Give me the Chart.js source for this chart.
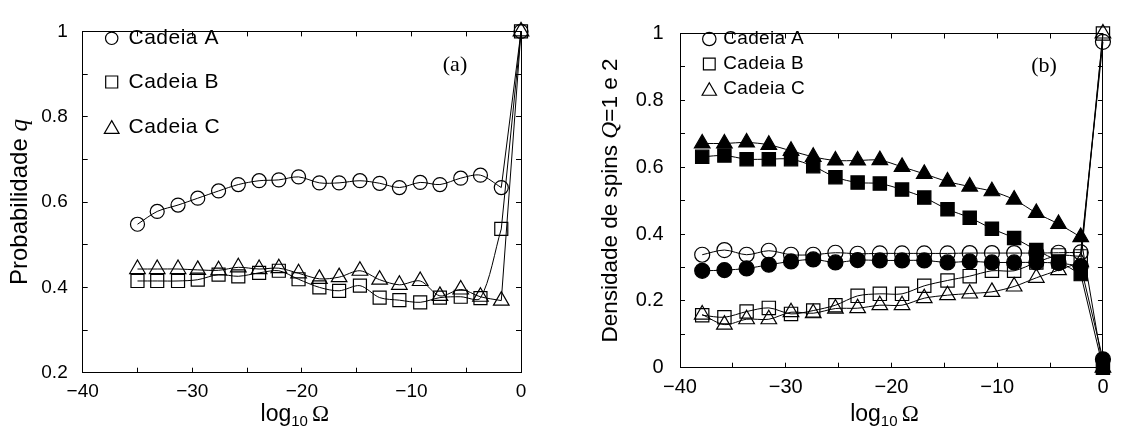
<!DOCTYPE html>
<html>
<head>
<meta charset="utf-8">
<script src="https://cdn.jsdelivr.net/npm/chart.js@4.4.1/dist/chart.umd.min.js"></script>
<style>
  body { margin: 0; background: #fff; }
  canvas { position: absolute; top: 0; }
  #painelA { left: 0; }
  #painelB { left: 560px; }
</style>
</head>
<body>
<canvas id="painelA" width="560" height="434"></canvas>
<canvas id="painelB" width="561" height="434"></canvas>
<script>
// (a) probabilidade q em função de log10 Ω
const logOmegaA = [-35.0, -33.2, -31.3, -29.5, -27.6, -25.8, -23.9, -22.1, -20.3, -18.4,
                   -16.6, -14.7, -12.9, -11.1, -9.2, -7.4, -5.5, -3.7, -1.8, 0];
const probCadeiaA = [0.548, 0.578, 0.593, 0.609, 0.626, 0.641, 0.650, 0.652, 0.659, 0.645,
                     0.645, 0.650, 0.644, 0.634, 0.646, 0.641, 0.656, 0.663, 0.634, 1];
const probCadeiaB = [0.415, 0.415, 0.415, 0.418, 0.430, 0.426, 0.434, 0.439, 0.419, 0.400,
                     0.392, 0.404, 0.376, 0.370, 0.365, 0.376, 0.378, 0.375, 0.537, 1];
const probCadeiaC = [0.443, 0.443, 0.443, 0.441, 0.440, 0.447, 0.443, 0.445, 0.433, 0.420,
                     0.424, 0.439, 0.418, 0.406, 0.415, 0.380, 0.395, 0.378, 0.369, 1];

// (b) densidade de spins Q=1 e 2 (símbolos abertos e cheios)
const logOmegaB = [-37.9, -35.8, -33.7, -31.6, -29.5, -27.4, -25.3, -23.2, -21.1, -19.0,
                   -16.9, -14.7, -12.6, -10.5, -8.4, -6.3, -4.2, -2.1, 0];
const densA1 = [0.338, 0.352, 0.338, 0.350, 0.338, 0.338, 0.344, 0.341, 0.342, 0.342,
                0.342, 0.342, 0.343, 0.343, 0.343, 0.343, 0.344, 0.345, 0.975];
const densA2 = [0.290, 0.292, 0.297, 0.308, 0.318, 0.324, 0.315, 0.322, 0.321, 0.321,
                0.321, 0.315, 0.318, 0.315, 0.315, 0.315, 0.313, 0.304, 0.025];
const densB1 = [0.157, 0.151, 0.168, 0.179, 0.161, 0.171, 0.187, 0.215, 0.221, 0.221,
                0.245, 0.261, 0.274, 0.290, 0.290, 0.315, 0.336, 0.333, 1];
const densB2 = [0.631, 0.635, 0.624, 0.624, 0.624, 0.603, 0.570, 0.554, 0.551, 0.533,
                0.509, 0.474, 0.449, 0.416, 0.388, 0.352, 0.318, 0.280, 0];
const densC1 = [0.159, 0.129, 0.145, 0.145, 0.166, 0.163, 0.177, 0.178, 0.187, 0.187,
                0.208, 0.217, 0.222, 0.227, 0.243, 0.269, 0.292, 0.316, 1];
const densC2 = [0.671, 0.671, 0.674, 0.667, 0.649, 0.631, 0.620, 0.620, 0.621, 0.601,
                0.580, 0.557, 0.542, 0.528, 0.503, 0.463, 0.430, 0.391, 0];

const nomesCadeias = ['Cadeia A', 'Cadeia B', 'Cadeia C'];

const sans = "'Liberation Sans', Arial, Helvetica, sans-serif";
const serif = "'Liberation Serif', 'Times New Roman', serif";

function rotuloX(v) {
  if (v % 10 !== 0) return '';
  return v < 0 ? '\u2212' + Math.abs(v) : String(v);
}
function rotuloY(v) {
  const d = Math.round(v * 10);
  return d % 2 === 0 ? String(d / 10) : '';
}

function eixos(c) {
  const fonte = { family: sans, size: c.fonte };
  const grade = () => ({ drawOnChartArea: false, tickLength: -5, color: '#000', lineWidth: 1 });
  const borda = () => ({ color: '#000', width: 1 });
  return {
    x: { type: 'linear', position: 'bottom', min: -40, max: 0,
         ticks: { stepSize: 5, autoSkip: false, maxRotation: 0, color: '#000', font: fonte,
                  padding: c.padX, callback: rotuloX },
         grid: grade(), border: borda(), afterFit: s => { s.height = c.baixo; } },
    x2: { type: 'linear', position: 'top', min: -40, max: 0,
          ticks: { stepSize: 5, display: false },
          grid: grade(), border: borda(), afterFit: s => { s.height = c.topo; } },
    y: { type: 'linear', position: 'left', min: c.ymin, max: 1,
         ticks: { stepSize: 0.1, autoSkip: false, color: '#000', font: fonte,
                  padding: c.padY, callback: rotuloY },
         grid: grade(), border: borda(), afterFit: s => { s.width = c.esq; } },
    y2: { type: 'linear', position: 'right', min: c.ymin, max: 1,
          ticks: { stepSize: 0.1, display: false },
          grid: grade(), border: borda(), afterFit: s => { s.width = c.dir; } }
  };
}

// cada série: curva suave até o penúltimo ponto e segmento reto até log10 Ω = 0
function serie(xs, ys, forma, cheio, raio) {
  const pts = xs.map((x, i) => ({ x: x, y: ys[i] }));
  const n = pts.length;
  const base = {
    pointStyle: forma, pointBorderWidth: 1.2, pointBorderColor: '#000',
    pointBackgroundColor: cheio ? '#000' : 'rgba(0,0,0,0)',
    borderColor: '#000', borderWidth: 1, fill: false, clip: false, showLine: true
  };
  return [
    Object.assign({}, base, { data: pts.slice(0, n - 1), tension: 0.3, pointRadius: raio }),
    Object.assign({}, base, { data: pts.slice(n - 2), tension: 0, pointRadius: [0, raio] })
  ];
}

function textoComposto(ctx, partes, x, y, angulo) {
  ctx.save();
  ctx.translate(x, y);
  ctx.rotate(angulo);
  ctx.fillStyle = '#000';
  ctx.textBaseline = 'alphabetic';
  let total = 0;
  partes.forEach(p => { ctx.font = p.f; p.w = ctx.measureText(p.t).width; total += p.w; });
  let cx = -total / 2;
  partes.forEach(p => { ctx.font = p.f; ctx.fillText(p.t, cx, p.dy || 0); cx += p.w; });
  ctx.restore();
}

function legenda(ctx, itens, c) {
  ctx.save();
  ctx.font = c.fonte + 'px ' + sans;
  ctx.letterSpacing = c.espaco + 'px';
  ctx.textBaseline = 'middle';
  itens.forEach((it, i) => {
    const y = c.y[i];
    ctx.strokeStyle = '#000';
    ctx.fillStyle = 'rgba(0,0,0,0)';
    ctx.lineWidth = 1.2;
    const dy = it.forma === 'triangle' ? it.raio / 4 : 0;
    Chart.helpers.drawPoint(ctx, { pointStyle: it.forma, radius: it.raio, rotation: 0, borderWidth: 1.2 }, c.x, y + dy);
    ctx.fillStyle = '#000';
    ctx.fillText(it.texto, c.texto, y);
  });
  ctx.restore();
}

function decoracao(c) {
  return {
    id: 'decoracao',
    afterDraw(chart) {
      const ctx = chart.ctx;
      const area = chart.chartArea;
      textoComposto(ctx, c.tituloY, c.yTitX, (area.top + area.bottom) / 2, -Math.PI / 2);
      textoComposto(ctx, [
        { t: 'log', f: '23px ' + sans },
        { t: '10', f: '15px ' + sans, dy: 5 },
        { t: ' ', f: '15px ' + sans },
        { t: '\u03A9', f: '23px ' + serif }
      ], (area.left + area.right) / 2 - 7, 421, 0);
      legenda(ctx, c.itens, c.legenda);
      ctx.save();
      ctx.font = '22px ' + serif;
      ctx.fillStyle = '#000';
      ctx.textAlign = 'center';
      ctx.textBaseline = 'middle';
      ctx.fillText(c.painel, c.painelX, c.painelY);
      ctx.restore();
    }
  };
}

const comuns = {
  responsive: false, animation: false, devicePixelRatio: 1, events: [],
  layout: { padding: 0 },
  plugins: { legend: { display: false }, tooltip: { enabled: false } }
};

new Chart(document.getElementById('painelA'), {
  type: 'scatter',
  data: {
    datasets: [].concat(
      serie(logOmegaA, probCadeiaA, 'circle', false, 7),
      serie(logOmegaA, probCadeiaB, 'rect', false, 9.2),
      serie(logOmegaA, probCadeiaC, 'triangle', false, 9)
    )
  },
  options: Object.assign({}, comuns, {
    scales: eixos({ ymin: 0.2, fonte: 19, padX: 12.2, padY: 20, esq: 82.7, dir: 39, topo: 12.3, baixo: 61.3 })
  }),
  plugins: [decoracao({
    tituloY: [{ t: 'Probabilidade ', f: '24px ' + sans }, { t: 'q', f: 'italic 25px ' + serif }],
    yTitX: 27,
    itens: [
      { texto: nomesCadeias[0], forma: 'circle', raio: 6.2 },
      { texto: nomesCadeias[1], forma: 'rect', raio: 8.5 },
      { texto: nomesCadeias[2], forma: 'triangle', raio: 8.5 }
    ],
    legenda: { x: 111.7, y: [38.3, 82, 127], texto: 128.5, fonte: 21, espaco: 0.5 },
    painel: '(a)', painelX: 455, painelY: 65
  })]
});

new Chart(document.getElementById('painelB'), {
  type: 'scatter',
  data: {
    datasets: [].concat(
      serie(logOmegaB, densC2, 'triangle', true, 9),
      serie(logOmegaB, densB2, 'rect', true, 9.4),
      serie(logOmegaB, densA2, 'circle', true, 7.5),
      serie(logOmegaB, densA1, 'circle', false, 7.5),
      serie(logOmegaB, densB1, 'rect', false, 9.4),
      serie(logOmegaB, densC1, 'triangle', false, 9)
    )
  },
  options: Object.assign({}, comuns, {
    scales: eixos({ ymin: 0, fonte: 20, padX: 12.5, padY: 21.5, esq: 120, dir: 10.3, topo: 12.3, baixo: 66.3 })
  }),
  plugins: [decoracao({
    tituloY: [
      { t: 'Densidade de spins ', f: '22.5px ' + sans },
      { t: 'Q', f: 'italic 23.5px ' + serif },
      { t: '=1 e 2', f: '22.5px ' + sans }
    ],
    yTitX: 57,
    itens: [
      { texto: nomesCadeias[0], forma: 'circle', raio: 6.7 },
      { texto: nomesCadeias[1], forma: 'rect', raio: 8.3 },
      { texto: nomesCadeias[2], forma: 'triangle', raio: 8.3 }
    ],
    legenda: { x: 149.3, y: [39, 64, 89], texto: 163.3, fonte: 19, espaco: 0.3 },
    painel: '(b)', painelX: 484, painelY: 66.7
  })]
});
</script>
</body>
</html>
